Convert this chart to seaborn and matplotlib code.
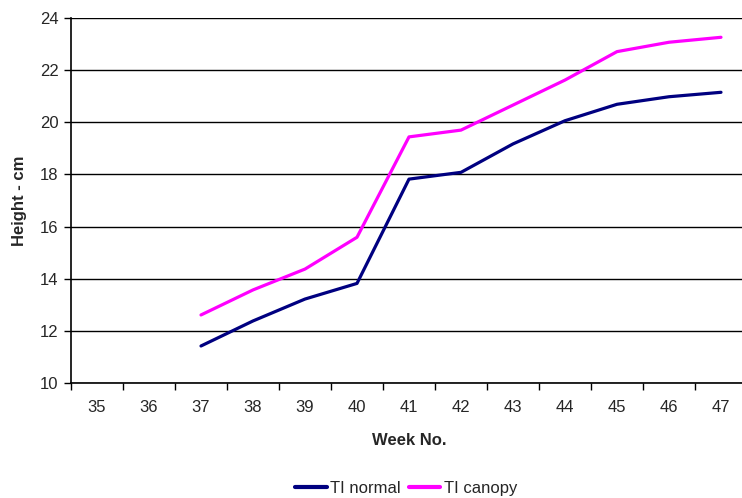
import matplotlib
matplotlib.use("Agg")
import matplotlib.pyplot as plt
import seaborn as sns
import pandas as pd
from matplotlib.ticker import FixedLocator, NullFormatter, FixedFormatter

weeks = [37, 38, 39, 40, 41, 42, 43, 44, 45, 46, 47]
ti_normal = [11.42, 12.38, 13.22, 13.82, 17.82, 18.08, 19.17, 20.06, 20.69, 20.98, 21.15]
ti_canopy = [12.61, 13.57, 14.37, 15.59, 19.44, 19.70, 20.66, 21.62, 22.71, 23.07, 23.26]
week_labels = [str(w) for w in range(35, 48)]
series_names = ["TI normal", "TI canopy"]
colors = ["#000080", "#FF00FF"]

df = pd.DataFrame({
    "Week": weeks * 2,
    "Height": ti_normal + ti_canopy,
    "Series": [series_names[0]] * len(weeks) + [series_names[1]] * len(weeks),
})

sns.set_style("white")
plt.rcParams["font.family"] = ["Liberation Sans", "DejaVu Sans"]

fig = plt.figure(figsize=(7.42, 4.98), dpi=100)
ax = fig.add_axes([71 / 742, 115 / 498, 676 / 742, 365 / 498])

sns.lineplot(data=df, x="Week", y="Height", hue="Series", palette=colors,
             linewidth=2.3, ax=ax, legend=False, sort=False)

ax.set_xlim(34.5, 47.5)
ax.set_ylim(10, 24)
ax.set_yticks(range(10, 25, 2))
ax.yaxis.grid(True, color="black", linewidth=1)
ax.set_axisbelow(True)

ax.xaxis.set_major_locator(FixedLocator([w + 0.5 for w in range(34, 48)]))
ax.xaxis.set_major_formatter(NullFormatter())
ax.xaxis.set_minor_locator(FixedLocator(list(range(35, 48))))
ax.xaxis.set_minor_formatter(FixedFormatter(week_labels))
ax.tick_params(axis="x", which="major", direction="out", length=5, width=1, color="black", bottom=True)
ax.tick_params(axis="x", which="minor", length=0, labelsize=12, pad=12, bottom=True)
ax.tick_params(axis="y", direction="out", length=5, width=1, color="black", labelsize=12, left=True, pad=4)

for s in ["top", "right"]:
    ax.spines[s].set_visible(False)
for s in ["left", "bottom"]:
    ax.spines[s].set_color("black")
    ax.spines[s].set_linewidth(1.2)

ax.set_xlabel("Week No.", fontsize=12, fontweight="bold", labelpad=13)
ax.set_ylabel("Height - cm", fontsize=12, fontweight="bold", labelpad=9)

handles = [plt.Line2D([], [], color=c, linewidth=3) for c in colors]
fig.legend(handles, series_names, loc="center", bbox_to_anchor=(406 / 742, 10 / 498),
           ncol=2, frameon=False, fontsize=12, handlelength=1.9, columnspacing=0.5,
           handletextpad=0.2, borderpad=0, borderaxespad=0)

fig.savefig("out.png", dpi=100)
